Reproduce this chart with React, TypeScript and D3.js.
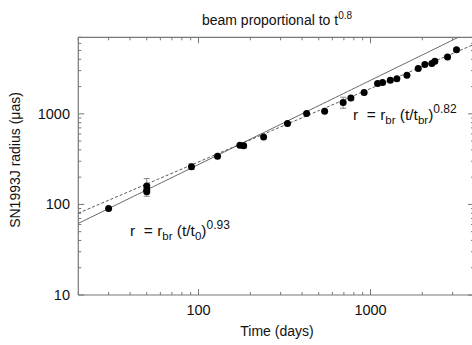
import React from "react";
import * as d3 from "d3";

const times = [30, 50, 50, 50, 91, 129, 174, 183, 239, 329, 425, 541, 693, 769, 918, 1099, 1175, 1303, 1423, 1628, 1894, 2070, 2274, 2366, 2804, 3162];
const radii = [90, 160, 144, 138, 260, 341, 451, 443, 556, 782, 1006, 1069, 1333, 1497, 1717, 2158, 2214, 2346, 2447, 2661, 3160, 3500, 3590, 3802, 4236, 5117];

const errTimes = [50, 91, 693];
const errLow = [123, 243, 1153];
const errHigh = [193, 280, 1525];

const solidFit = { tRef: 20, rRef: 61.7, exp: 0.93 };
const dashedFit = { tRef: 20, rRef: 80, exp: 0.81 };

const xTickLabels = [100, 1000];
const yTickLabels = [10, 100, 1000];

const W = 472, H = 345;
const left = 78.3, top = 37.3, bottom = 295;
const xDomain = [20, 4000];
const yDomain = [10, 7000];

export default function App() {
  const x = d3.scaleLog().domain(xDomain).range([left, left + 172 * Math.log10(xDomain[1] / xDomain[0])]);
  const y = d3.scaleLog().domain(yDomain).range([bottom, top]);
  const right = x(xDomain[1]);

  const xMinor: number[] = [];
  for (let d = 10; d <= 1000; d *= 10) for (let k = 1; k <= 9; k++) {
    const v = d * k;
    if (v >= xDomain[0] && v <= xDomain[1]) xMinor.push(v);
  }
  const yMinor: number[] = [];
  for (let d = 10; d <= 1000; d *= 10) for (let k = 1; k <= 9; k++) {
    const v = d * k;
    if (v >= yDomain[0] && v <= yDomain[1]) yMinor.push(v);
  }
  const isMajor = (v: number) => Math.abs(Math.log10(v) - Math.round(Math.log10(v))) < 1e-9;

  const fitLine = (f: { tRef: number; rRef: number; exp: number }) => {
    const ts = d3.range(0, 101).map(i => xDomain[0] * Math.pow(xDomain[1] / xDomain[0], i / 100));
    return d3.line<number>().x(t => x(t)).y(t => y(f.rRef * Math.pow(t / f.tRef, f.exp)))(ts) || "";
  };

  const axisColor = "#777";
  const font = "'Liberation Sans', Arial, Helvetica, sans-serif";

  return (
    <svg width={W} height={H} style={{ position: "absolute", left: 0, top: 0, background: "#fff" }} fontFamily={font}>
      <defs>
        <clipPath id="plot">
          <rect x={left} y={top} width={right - left} height={bottom - top} />
        </clipPath>
      </defs>
      {/* title */}
      <text x={277} y={25} textAnchor="middle" fontSize={14} fill="#111">
        beam proportional to t<tspan dy={-6} fontSize={10}>0.8</tspan>
      </text>
      {/* axes frame */}
      <g stroke={axisColor} strokeWidth={1.2} fill="none">
        <line x1={left} y1={top} x2={left} y2={bottom} />
        <line x1={left} y1={bottom} x2={right} y2={bottom} />
        <line x1={left} y1={top} x2={right} y2={top} />
        <line x1={right} y1={top} x2={right} y2={bottom} />
      </g>
      {/* ticks */}
      <g stroke={axisColor} strokeWidth={1}>
        {xMinor.map((v, i) => {
          const len = isMajor(v) ? 6 : 3;
          return (
            <g key={i}>
              <line x1={x(v)} x2={x(v)} y1={bottom} y2={bottom - len} />
              <line x1={x(v)} x2={x(v)} y1={top} y2={top + len} />
            </g>
          );
        })}
        {yMinor.map((v, i) => {
          const len = isMajor(v) ? 6 : 3;
          return (
            <g key={i}>
              <line x1={left} x2={left + len} y1={y(v)} y2={y(v)} />
              <line x1={right} x2={right - len} y1={y(v)} y2={y(v)} />
            </g>
          );
        })}
      </g>
      {/* tick labels */}
      {xTickLabels.map(v => (
        <text key={v} x={x(v)} y={315} textAnchor="middle" fontSize={14.5} fill="#111">{v}</text>
      ))}
      {yTickLabels.map(v => (
        <text key={v} x={70} y={y(v) + 5} textAnchor="end" fontSize={14.5} fill="#111">{v}</text>
      ))}
      {/* axis titles */}
      <text x={277} y={336} textAnchor="middle" fontSize={14} fill="#111">Time (days)</text>
      <text transform={`translate(20,160) rotate(-90)`} textAnchor="middle" fontSize={14} fill="#111">SN1993J radius (μas)</text>
      {/* fits */}
      <g clipPath="url(#plot)" fill="none">
        <path d={fitLine(solidFit)} stroke="#666" strokeWidth={1} />
        <path d={fitLine(dashedFit)} stroke="#444" strokeWidth={0.9} strokeDasharray="3,2" />
      </g>
      {/* error bars */}
      <g stroke="#888" strokeWidth={1}>
        {errTimes.map((t, i) => (
          <g key={i}>
            <line x1={x(t)} x2={x(t)} y1={y(errLow[i])} y2={y(errHigh[i])} />
            <line x1={x(t) - 3} x2={x(t) + 3} y1={y(errLow[i])} y2={y(errLow[i])} />
            <line x1={x(t) - 3} x2={x(t) + 3} y1={y(errHigh[i])} y2={y(errHigh[i])} />
          </g>
        ))}
      </g>
      {/* points */}
      <g fill="#000">
        {times.map((t, i) => (
          <circle key={i} cx={x(t)} cy={y(radii[i])} r={3.5} />
        ))}
      </g>
      {/* annotations */}
      <text x={130} y={236} fontSize={15.5} fill="#111">
        {"r\u00A0 = r"}<tspan dy={4} fontSize={11.5}>br</tspan><tspan dy={-4}> (t/t</tspan><tspan dy={4} fontSize={11.5}>0</tspan><tspan dy={-4}>)</tspan><tspan dy={-7} fontSize={12}>0.93</tspan>
      </text>
      <text x={353} y={120} fontSize={15.5} fill="#111">
        {"r\u00A0 = r"}<tspan dy={4} fontSize={11.5}>br</tspan><tspan dy={-4}> (t/t</tspan><tspan dy={4} fontSize={11.5}>br</tspan><tspan dy={-4}>)</tspan><tspan dy={-7} fontSize={12}>0.82</tspan>
      </text>
    </svg>
  );
}
